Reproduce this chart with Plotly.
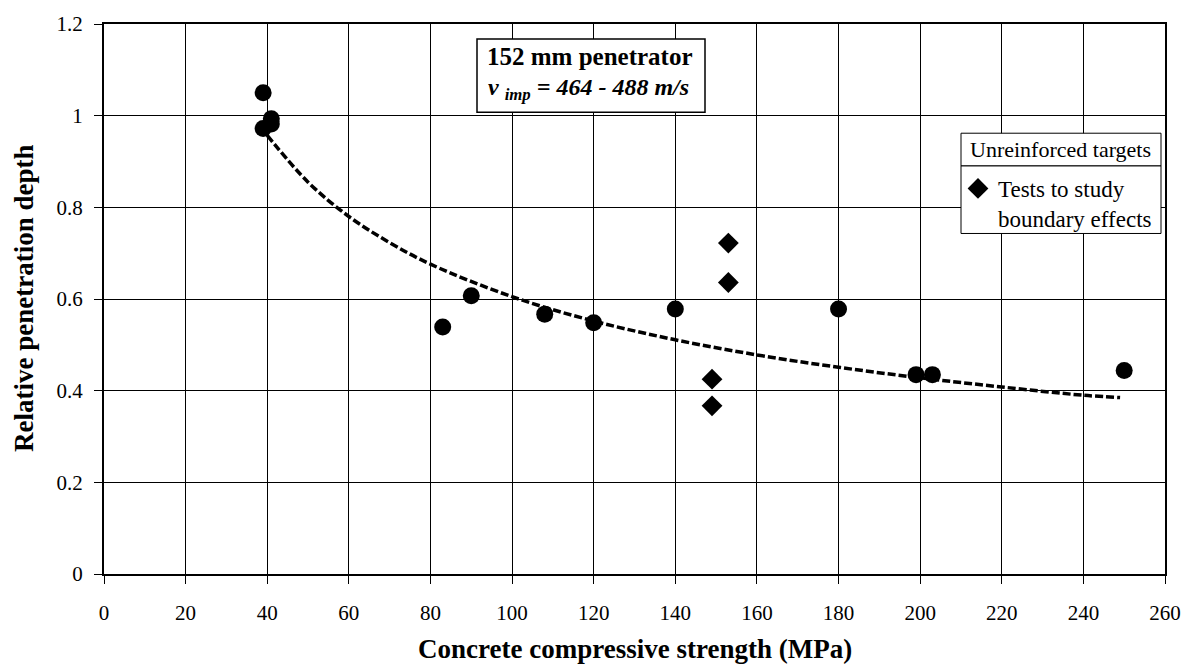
import plotly.graph_objects as go

# Penetration depth (relative) vs. concrete compressive strength
strength_mpa = [39, 39, 41, 41, 83, 90, 108, 120, 140, 180, 199, 203, 250]
rel_depth = [1.05, 0.972, 0.993, 0.982, 0.539, 0.607, 0.567, 0.548, 0.578, 0.578, 0.435, 0.435, 0.444]

# Tests to study boundary effects
boundary_mpa = [153, 153, 149, 149]
boundary_depth = [0.722, 0.636, 0.425, 0.367]

# Power-type trend curve through the circle data
trend_mpa = [40, 50, 60, 70, 80, 100, 120, 140, 160, 180, 200, 220, 240, 249]
trend_depth = [0.957, 0.855, 0.780, 0.723, 0.676, 0.605, 0.552, 0.511, 0.478, 0.451, 0.428, 0.408, 0.390, 0.385]

x_ticks = list(range(0, 261, 20))
y_ticks = [0, 0.2, 0.4, 0.6, 0.8, 1.0, 1.2]
y_tick_text = ["0", "0.2", "0.4", "0.6", "0.8", "1", "1.2"]

FONT = "Liberation Serif"
W, H = 1197, 670
L, R, T, B = 104, 1165, 20, 574  # plot area in pixels


def px_x(p):
    return (p - L) / (R - L)


def px_y(p):
    return (B - p) / (B - T)


fig = go.Figure()

fig.add_trace(go.Scatter(
    x=trend_mpa, y=trend_depth, mode="lines", line_shape="spline",
    line=dict(color="black", width=3.5, dash="8px,3px"),
    showlegend=False, hoverinfo="skip",
))

fig.add_trace(go.Scatter(
    x=strength_mpa, y=rel_depth, mode="markers",
    marker=dict(symbol="circle", size=17, color="black"),
    showlegend=False,
))

fig.add_trace(go.Scatter(
    x=boundary_mpa, y=boundary_depth, mode="markers",
    name="Tests to study<br>boundary effects",
    marker=dict(symbol="diamond", size=16, color="black"),
))

axis_common = dict(
    showline=True, linecolor="black", linewidth=2, mirror=True,
    showgrid=True, gridcolor="black", gridwidth=1,
    ticks="outside", ticklen=8, tickcolor="black", tickwidth=1,
    tickfont=dict(family=FONT, size=21, color="black"),
    zeroline=False,
)

fig.update_xaxes(
    range=[0, 260], tickvals=x_ticks, ticktext=[str(v) for v in x_ticks],
    ticklabelstandoff=11,
    **axis_common,
)
fig.update_yaxes(
    range=[0, 1.2], tickvals=y_ticks, ticktext=y_tick_text,
    ticklabelstandoff=7,
    **axis_common,
)

shapes = [
    # label box
    dict(type="rect", xref="paper", yref="paper",
         x0=px_x(477), x1=px_x(705), y0=px_y(109), y1=px_y(35),
         line=dict(color="black", width=1.5), fillcolor="white", layer="above"),
    # legend title box
    dict(type="rect", xref="paper", yref="paper",
         x0=px_x(961), x1=px_x(1161), y0=px_y(163), y1=px_y(130),
         line=dict(color="black", width=1), fillcolor="white", layer="above"),
    # legend body box
    dict(type="rect", xref="paper", yref="paper",
         x0=px_x(961), x1=px_x(1161), y0=px_y(231), y1=px_y(163),
         line=dict(color="black", width=1), fillcolor="white", layer="above"),
]

annotations = [
    dict(xref="paper", yref="paper", x=px_x(590), y=px_y(53),
         text="<b>152 mm penetrator</b>", showarrow=False,
         font=dict(family=FONT, size=25, color="black"), xanchor="center", yanchor="middle"),
    dict(xref="paper", yref="paper", x=px_x(588), y=px_y(85),
         text="<b><i>v <sub>imp</sub> = 464 - 488 m/s</i></b>", showarrow=False,
         font=dict(family=FONT, size=24, color="black"), xanchor="center", yanchor="middle"),
    dict(xref="paper", yref="paper", x=px_x(1060), y=px_y(146),
         text="Unreinforced targets", showarrow=False,
         font=dict(family=FONT, size=22, color="black"), xanchor="center", yanchor="middle"),
    # axis titles
    dict(xref="paper", yref="paper", x=0.5, y=px_y(650),
         text="<b>Concrete compressive strength (MPa)</b>", showarrow=False,
         font=dict(family=FONT, size=27, color="black"), xanchor="center", yanchor="middle"),
    dict(xref="paper", yref="paper", x=px_x(24), y=0.5, textangle=-90,
         text="<b>Relative penetration depth</b>", showarrow=False,
         font=dict(family=FONT, size=27, color="black"), xanchor="center", yanchor="middle"),
]

fig.update_layout(
    width=W, height=H,
    margin=dict(l=L, r=W - R, t=T, b=H - B, pad=0),
    paper_bgcolor="white", plot_bgcolor="white",
    font=dict(family=FONT, size=22, color="black"),
    shapes=shapes, annotations=annotations,
    showlegend=True,
    legend=dict(
        x=px_x(958), y=px_y(164), xanchor="left", yanchor="top",
        bgcolor="rgba(0,0,0,0)", borderwidth=0,
        font=dict(family=FONT, size=23, color="black"),
        valign="top", itemwidth=30, tracegroupgap=0,
    ),
)

fig.write_html("out.html")
